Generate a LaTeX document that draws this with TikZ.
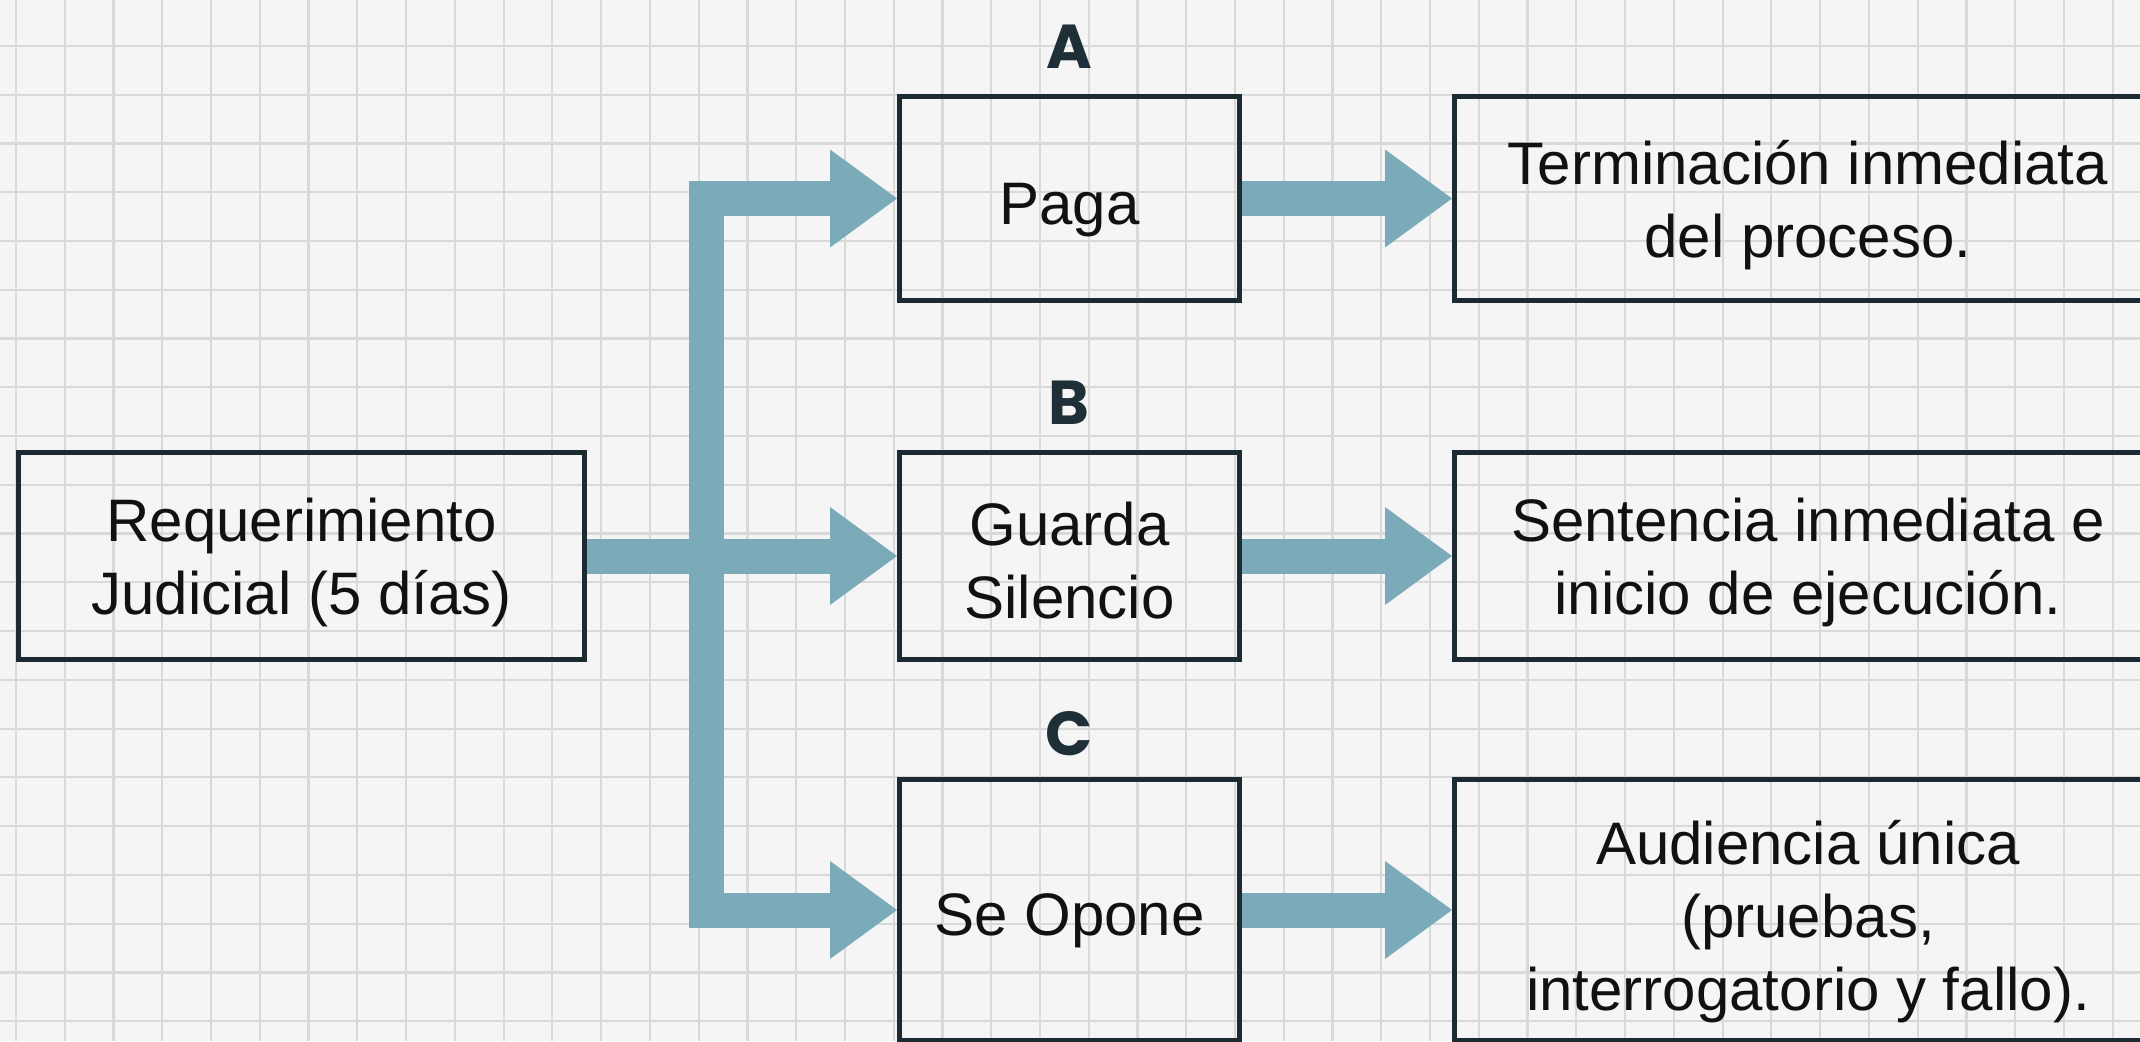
\documentclass[tikz,border=0pt]{standalone}
\usepackage{fontspec}
\setmainfont{Liberation Sans}
\newfontfamily\labfont{Poppins}
\usetikzlibrary{arrows.meta,calc}
\definecolor{bgc}{HTML}{F5F5F5}
\definecolor{gridc}{HTML}{D9D9D9}
\definecolor{arrowc}{HTML}{7BABB8}
\definecolor{boxc}{HTML}{1C2B31}
\definecolor{txtc}{HTML}{111111}
\definecolor{labc}{HTML}{1F2F37}
\begin{document}
\begin{tikzpicture}[x=1pt,y=-1pt,
  gridline/.style={draw=gridc,line width=2.2pt},
  card/.style={draw=boxc,line width=5pt,rectangle,inner sep=0pt},
  cardtext/.style={inner sep=0pt,align=center,text=txtc,font=\fontsize{60}{73}\selectfont},
  fatarrow/.style={draw=arrowc,line width=35pt,line join=miter,line cap=butt,
    -{Triangle[length=67pt,width=98pt,line width=0pt]}},
  letter/.style={text=labc,font=\labfont\bfseries\fontsize{62}{70}\selectfont,inner sep=0pt}]
\useasboundingbox (0,0) rectangle (2140,1041);
\clip (0,0) rectangle (2140,1041);
\fill[bgc] (0,0) rectangle (2140,1041);
\foreach \i in {0,...,43} \draw[gridline] ({16+48.76*\i},0) -- ({16+48.76*\i},1041);
\foreach \j in {1,...,21} \draw[gridline] (0,{-2.8+48.76*\j}) -- (2140,{-2.8+48.76*\j});

\node[card,minimum width=566pt,minimum height=207pt] (req) at (301.5,556) {};
\node[card,minimum width=340pt,minimum height=204pt] (paga) at (1069.5,198.5) {};
\node[card,minimum width=340pt,minimum height=207pt] (guarda) at (1069.5,556) {};
\node[card,minimum width=340pt,minimum height=261pt] (opone) at (1069.5,910) {};
\node[card,minimum width=707pt,minimum height=204pt] (r1) at (1808,198.5) {};
\node[card,minimum width=707pt,minimum height=207pt] (r2) at (1808,556) {};
\node[card,minimum width=707pt,minimum height=261pt] (r3) at (1808,910) {};

\node[cardtext] (reqt) at ($(req.center)+(0,6)$) {Requerimiento\\Judicial (5 días)};
\node[cardtext] (pagat) at ($(paga.center)+(0,12)$) {Paga};
\node[cardtext] (guardat) at ($(guarda.center)+(0,5)$) {Guarda\\Silencio};
\node[cardtext] (oponet) at ($(opone.center)+(0,11)$) {Se Opone};
\node[cardtext] (r1t) at ($(r1.center)+(0,7)$) {Terminación inmediata\\del proceso.};
\node[cardtext] (r2t) at ($(r2.center)+(0,6)$) {Sentencia inmediata e\\inicio de ejecución.};
\node[cardtext] (r3t) at ($(r3.center)+(0,12)$) {Audiencia única\\(pruebas,\\interrogatorio y fallo).};

\node[letter] (la) at (1069,47) {A};
\node[letter] (lb) at (1069,403) {B};
\node[letter] (lc) at (1069,734) {C};

\coordinate (split) at ($(req.east)+(119,0)$);
\draw[fatarrow] (req.east) -- (guarda.west);
\draw[fatarrow] (split) |- (paga.west);
\draw[fatarrow] (split) |- (opone.west);
\draw[fatarrow] (paga.east) -- (r1.west);
\draw[fatarrow] (guarda.east) -- (r2.west);
\draw[fatarrow] (opone.east) -- (r3.west);
\end{tikzpicture}
\end{document}
